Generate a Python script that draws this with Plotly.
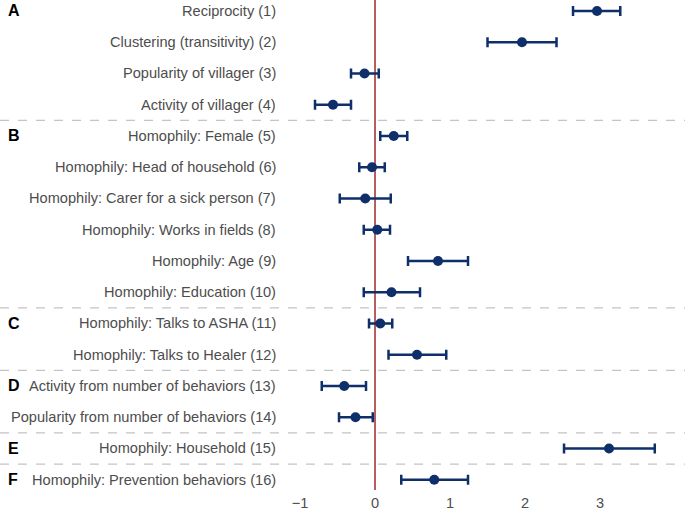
import plotly.graph_objects as go

labels = [
    "Reciprocity (1)",
    "Clustering (transitivity) (2)",
    "Popularity of villager (3)",
    "Activity of villager (4)",
    "Homophily: Female (5)",
    "Homophily: Head of household (6)",
    "Homophily: Carer for a sick person (7)",
    "Homophily: Works in fields (8)",
    "Homophily: Age (9)",
    "Homophily: Education (10)",
    "Homophily: Talks to ASHA (11)",
    "Homophily: Talks to Healer (12)",
    "Activity from number of behaviors (13)",
    "Popularity from number of behaviors (14)",
    "Homophily: Household (15)",
    "Homophily: Prevention behaviors (16)",
]
estimate = [2.96, 1.96, -0.14, -0.56, 0.25, -0.04, -0.13, 0.03, 0.84, 0.22, 0.07, 0.56, -0.41, -0.26, 3.12, 0.79]
lower = [2.64, 1.50, -0.32, -0.80, 0.07, -0.21, -0.47, -0.15, 0.44, -0.15, -0.08, 0.18, -0.71, -0.48, 2.52, 0.35]
upper = [3.27, 2.42, 0.05, -0.32, 0.43, 0.13, 0.21, 0.20, 1.24, 0.60, 0.23, 0.95, -0.12, -0.03, 3.73, 1.24]
groups = {"A": 1, "B": 5, "C": 11, "D": 13, "E": 15, "F": 16}
separators_after = [4, 10, 12, 14, 15]
x_ticks = [-1, 0, 1, 2, 3]

rows = list(range(1, len(labels) + 1))
navy = "#0e2f69"
font_family = "Liberation Sans, Arial, Helvetica"

fig = go.Figure()
fig.add_trace(go.Scatter(
    x=estimate, y=rows, mode="markers",
    marker=dict(size=10, color=navy),
    error_x=dict(type="data", symmetric=False,
                 array=[u - e for u, e in zip(upper, estimate)],
                 arrayminus=[e - l for e, l in zip(estimate, lower)],
                 color=navy, thickness=2.5, width=5),
    showlegend=False, hoverinfo="skip",
))

W, H = 685, 511
ml, mr, mt, mb = 285, 0, 0, 21
pw = W - ml - mr

shapes = []
for s in separators_after:
    shapes.append(dict(type="line", xref="paper", yref="y",
                       x0=-ml / pw, x1=1, y0=s + 0.5, y1=s + 0.5,
                       line=dict(color="#c4c4c4", width=1.2, dash="dash"), layer="below"))
shapes.append(dict(type="line", xref="x", yref="paper", x0=0, x1=0, y0=0, y1=1,
                   line=dict(color="#9e2a2a", width=1.5), layer="below"))

annotations = []
for lab, r in zip(labels, rows):
    annotations.append(dict(text=lab, xref="paper", yref="y", x=-7 / pw, y=r,
                            xanchor="right", yanchor="middle", showarrow=False,
                            font=dict(family=font_family, size=14.6, color="#4d4d4d")))
for g, r in groups.items():
    annotations.append(dict(text="<b>%s</b>" % g, xref="paper", yref="y", x=-(ml - 6) / pw, y=r,
                            xanchor="left", yanchor="middle", showarrow=False,
                            font=dict(family=font_family, size=16, color="#000000")))

fig.update_layout(
    width=W, height=H,
    margin=dict(l=ml, r=mr, t=mt, b=mb, autoexpand=False),
    plot_bgcolor="white", paper_bgcolor="white",
    shapes=shapes, annotations=annotations,
    xaxis=dict(range=[-1.2, 4.133], tickvals=x_ticks, showgrid=False, zeroline=False,
               showline=False, ticks="", ticklabelstandoff=2, automargin=False,
               tickfont=dict(family=font_family, size=14.6, color="#4d4d4d")),
    yaxis=dict(range=[16.33, 0.65], showticklabels=False, showgrid=False, zeroline=False,
               showline=False, ticks="", automargin=False),
)
fig.write_html("out.html", config={"displayModeBar": False, "staticPlot": True},
               post_script="document.body.style.margin='0';")
